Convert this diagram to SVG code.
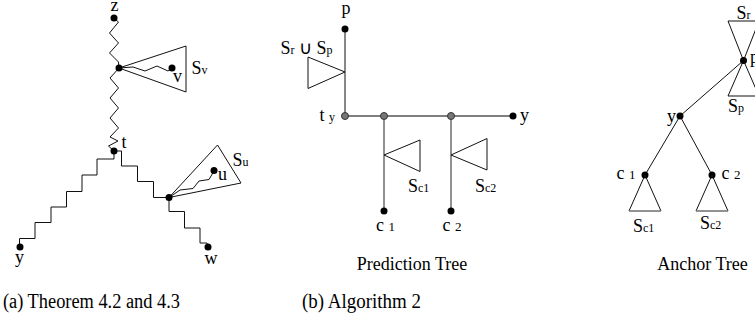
<svg xmlns="http://www.w3.org/2000/svg" width="755" height="322" viewBox="0 0 755 322">
<style>
.l{fill:none;stroke:#111;stroke-width:1;stroke-linejoin:miter}
.g{fill:none;stroke:#555;stroke-width:1.3}
.n{fill:#000}
.gn{fill:#777;stroke:#333;stroke-width:1}
text{font-family:"Liberation Serif","Times New Roman",serif;font-size:18px;fill:#000}
.s{font-size:12px}
.cap{font-family:"Liberation Serif",serif;font-size:20px}
</style>
<rect width="755" height="322" fill="#fff"/>
<g id="connectors">
<path class="l" d="M114,18 L118.5,22 L109.5,33 L118.5,43 L109.5,53 L118.5,62 L119,68"/>
<path class="l" d="M119,68 L110,78 L118.5,88 L110,98 L118.5,108 L110,118 L118.5,128 L110,137 L118,141 L108.5,146 L114,151"/>
<path class="l" d="M119,68 L133,67 L145,71 L157,66 L168,71 L172,68"/>
<path class="l" d="M114,151 L114,159 L97,159 L97,175 L82,175 L82,191.5 L66.5,191.5 L66.5,207 L51,207 L51,222.5 L35,222.5 L35,238.5 L19.5,238.5 L19.5,247"/>
<path class="l" d="M114,151 L121.5,151 L121.5,166 L137.5,166 L137.5,181.5 L153.5,181.5 L153.5,197.5 L169,197.5"/>
<path class="l" d="M169,197.5 L169,211.5 L184.5,211.5 L184.5,228 L200,228 L200,243 L207,243 L208,247"/>
<path class="l" d="M169,197.5 L180,190 L193,188.5 L199,181 L209,179.5 L214,171"/>
<path class="l" d="M345,29 L345,116"/>
<path class="g" d="M345,116 L513,116"/>
<path class="g" d="M384,116 L384,211"/>
<path class="g" d="M451,116 L451,211"/>
<path class="l" d="M743.5,60.5 L680,116"/>
<path class="l" d="M680,116 L645,175"/>
<path class="l" d="M680,116 L712,175"/>
</g>
<g id="node-z"><circle class="n" cx="114" cy="18" r="3.5"/><text x="110.5" y="11">z</text></g>
<g id="node-Sv"><path class="l" d="M119,68 L186,46 L186,92 Z"/><text x="191.5" y="73.5">S<tspan class="s">v</tspan></text></g>
<g id="node-junction-v"><circle class="n" cx="119" cy="68" r="3.5"/></g>
<g id="node-v"><circle class="n" cx="172" cy="68" r="3.5"/><text x="173" y="81.5">v</text></g>
<g id="node-t"><circle class="n" cx="114" cy="151" r="3.5"/><text x="121.5" y="148">t</text></g>
<g id="node-Su"><path class="l" d="M169,197.5 L217.5,145 L241,183 Z"/><text x="232.5" y="166">S<tspan class="s">u</tspan></text></g>
<g id="node-junction-u"><circle class="n" cx="169" cy="197.5" r="3.5"/></g>
<g id="node-u"><circle class="n" cx="214" cy="170.5" r="3.5"/><text x="218" y="180">u</text></g>
<g id="node-y-a"><circle class="n" cx="20" cy="247" r="3.5"/><text x="15" y="263">y</text></g>
<g id="node-w"><circle class="n" cx="208" cy="247" r="3.5"/><text x="204.5" y="264">w</text></g>

<g id="node-p-pred"><circle class="n" cx="345" cy="29" r="3.5"/><text x="341.5" y="14">p</text></g>
<g id="node-SrSp-pred"><path class="l" d="M345,72 L308,57 L308,88.5 Z"/><text x="280.5" y="53.5">S<tspan class="s">r</tspan> ∪ S<tspan class="s">p</tspan></text></g>
<g id="node-ty"><circle class="gn" cx="345" cy="116" r="3.5"/><text x="319.5" y="121">t <tspan class="s">y</tspan></text></g>
<g id="node-j1"><circle class="gn" cx="384" cy="116" r="3.5"/></g>
<g id="node-j2"><circle class="gn" cx="451" cy="116" r="3.5"/></g>
<g id="node-y-pred"><circle class="n" cx="513" cy="116" r="3.5"/><text x="520" y="121">y</text></g>
<g id="node-Sc1-pred"><path class="l" d="M384,155 L420,140 L420,171.5 Z"/><text x="408" y="191.5">S<tspan class="s">c1</tspan></text></g>
<g id="node-Sc2-pred"><path class="l" d="M451,155 L487,138.5 L487,170 Z"/><text x="475" y="191.5">S<tspan class="s">c2</tspan></text></g>
<g id="node-c1-pred"><circle class="n" cx="384" cy="211" r="3.5"/><text x="376" y="231">c <tspan font-size="13">1</tspan></text></g>
<g id="node-c2-pred"><circle class="n" cx="451" cy="211" r="3.5"/><text x="442.5" y="231">c <tspan font-size="13">2</tspan></text></g>
<text x="412" y="270" text-anchor="middle" font-size="19.5">Prediction Tree</text>

<g id="node-Sr-anchor"><path class="l" d="M728,21 L759,21 L743.5,60.5 Z"/><text x="736.5" y="18.5">S<tspan class="s">r</tspan></text></g>
<g id="node-Sp-anchor"><path class="l" d="M728,96 L759,96 L743.5,60.5 Z"/><text x="728" y="111.5">S<tspan class="s">p</tspan></text></g>
<g id="node-p-anchor"><circle class="n" cx="743.5" cy="60.5" r="3.5"/><text x="750" y="63">p</text></g>
<g id="node-y-anchor"><circle class="n" cx="680" cy="116" r="3.5"/><text x="667" y="121.5">y</text></g>
<g id="node-c1-anchor"><circle class="n" cx="645" cy="175" r="3.5"/><text x="616.5" y="178.5">c <tspan font-size="13">1</tspan></text>
<path class="l" d="M629,211 L645,175 L661,211"/><path d="M629,211 L661,211" stroke="#777" stroke-width="1.6"/>
<text x="633" y="231.5">S<tspan class="s">c1</tspan></text></g>
<g id="node-c2-anchor"><circle class="n" cx="712" cy="175" r="3.5"/><text x="721.5" y="178.5">c <tspan font-size="13">2</tspan></text>
<path class="l" d="M696,211 L712,175 L728,211"/><path d="M696,211 L728,211" stroke="#777" stroke-width="1.6"/>
<text x="700" y="228.5">S<tspan class="s">c2</tspan></text></g>
<text x="702.5" y="270" text-anchor="middle" font-size="19.5">Anchor Tree</text>

<text class="cap" x="3" y="308" textLength="177" lengthAdjust="spacingAndGlyphs">(a) Theorem 4.2 and 4.3</text>
<text class="cap" x="302" y="308" textLength="119" lengthAdjust="spacingAndGlyphs">(b) Algorithm 2</text>
</svg>
